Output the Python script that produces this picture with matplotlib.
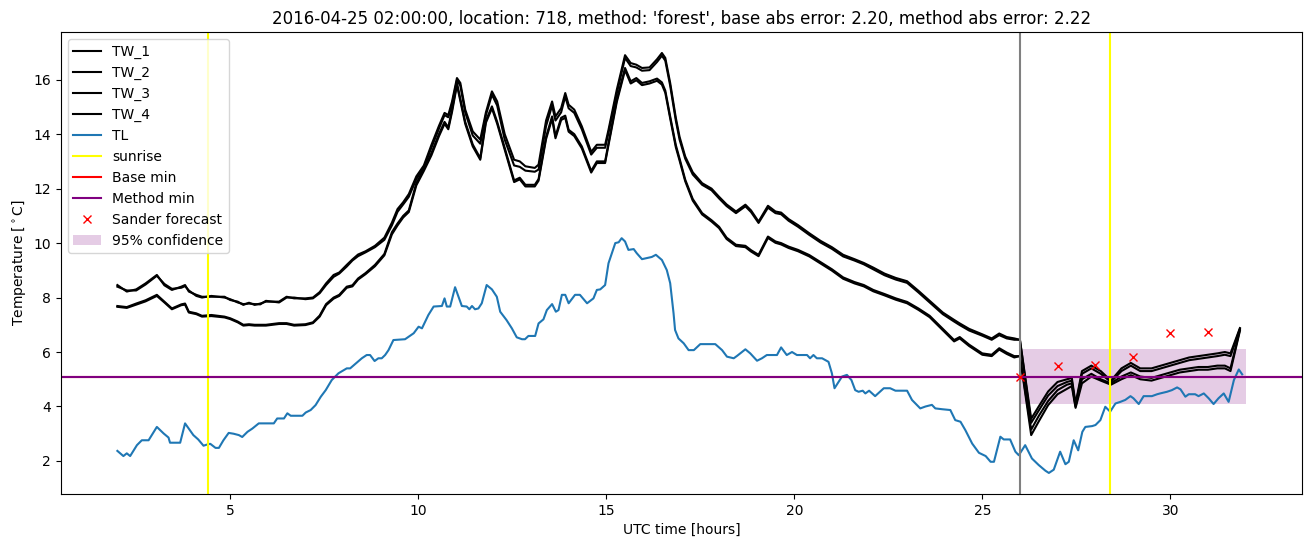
import matplotlib
matplotlib.use("Agg")
import matplotlib.pyplot as plt

title = ("2016-04-25 02:00:00, location: 718, method: 'forest', "
         "base abs error: 2.20, method abs error: 2.22")

# shared time axis for the TW series (observed part + forecast after 26 h)
tw_hours = [
    2.0, 2.25, 2.5, 2.75, 3.05, 3.25, 3.45, 3.7, 3.8, 3.9,
    4.1, 4.25, 4.5, 4.85, 5.0, 5.2, 5.35, 5.5, 5.65, 5.8,
    5.95, 6.3, 6.5, 6.7, 7.0, 7.2, 7.38, 7.55, 7.75, 7.9,
    8.1, 8.25, 8.4, 8.6, 8.85, 9.1, 9.3, 9.45, 9.6, 9.75,
    9.95, 10.15, 10.35, 10.55, 10.7, 10.8, 10.9, 11.03, 11.12, 11.25,
    11.45, 11.65, 11.8, 11.96, 12.1, 12.3, 12.55, 12.7, 12.85, 13.1,
    13.2, 13.4, 13.56, 13.65, 13.8, 13.91, 14.0, 14.15, 14.35, 14.6,
    14.75, 14.97, 15.06, 15.28, 15.5, 15.65, 15.8, 15.95, 16.15, 16.35,
    16.48, 16.57, 16.7, 16.85, 16.95, 17.1, 17.3, 17.55, 17.8, 18.0,
    18.2, 18.45, 18.7, 18.85, 19.05, 19.3, 19.5, 19.65, 19.85, 20.1,
    20.4, 20.7, 21.0, 21.3, 21.6, 21.85, 22.1, 22.4, 22.7, 23.0,
    23.3, 23.6, 23.95, 24.25, 24.4, 24.65, 25.0, 25.25, 25.45, 25.65,
    25.85,
    26.0, 26.3, 26.5, 26.75, 27.0, 27.25, 27.38, 27.48, 27.65,
    27.9, 28.15, 28.42, 28.7, 28.95, 29.2, 29.5, 29.75, 30.0, 30.25,
    30.5, 30.75, 31.0, 31.25, 31.45, 31.6, 31.85,
]

tw_1 = [
    8.46, 8.22, 8.30, 8.52, 8.83, 8.45, 8.28, 8.40, 8.46, 8.22,
    8.10, 8.03, 8.03, 8.03, 7.91, 7.85, 7.73, 7.81, 7.73, 7.78,
    7.85, 7.85, 8.03, 7.97, 7.97, 8.00, 8.20, 8.52, 8.83, 8.92,
    9.20, 9.40, 9.58, 9.70, 9.90, 10.20, 10.75, 11.25, 11.50, 11.80,
    12.45, 12.85, 13.60, 14.30, 14.78, 14.70, 15.20, 16.06, 15.88, 14.90,
    14.10, 13.80, 14.80, 15.57, 15.20, 14.00, 13.06, 13.00, 12.82, 12.76,
    12.88, 14.50, 15.20, 14.65, 14.95, 15.51, 15.08, 14.90, 14.29, 13.35,
    13.61, 13.61, 14.16, 15.63, 16.90, 16.61, 16.55, 16.43, 16.45, 16.75,
    16.98, 16.80, 15.88, 14.60, 13.90, 13.18, 12.60, 12.20, 12.00, 11.70,
    11.42, 11.16, 11.41, 11.20, 10.79, 11.37, 11.16, 11.12, 10.88, 10.66,
    10.36, 10.08, 9.85, 9.57, 9.41, 9.27, 9.10, 8.88, 8.72, 8.60,
    8.25, 7.88, 7.45, 7.18, 7.05, 6.85, 6.65, 6.50, 6.68, 6.55,
    6.50,
    6.45, 3.55, 4.00, 4.55, 4.90, 5.00, 5.05, 4.10, 5.30,
    5.50, 5.30, 4.95, 5.40, 5.60, 5.40, 5.40, 5.50, 5.60, 5.70,
    5.80, 5.85, 5.90, 5.95, 6.00, 5.95, 6.88,
]

tw_2 = [
    8.40, 8.26, 8.26, 8.48, 8.80, 8.50, 8.32, 8.36, 8.42, 8.26,
    8.06, 8.00, 8.06, 8.00, 7.94, 7.82, 7.76, 7.78, 7.76, 7.75,
    7.88, 7.82, 8.00, 8.00, 7.94, 7.97, 8.16, 8.46, 8.76, 8.88,
    9.14, 9.36, 9.52, 9.66, 9.85, 10.12, 10.65, 11.15, 11.42, 11.70,
    12.35, 12.78, 13.50, 14.20, 14.70, 14.62, 15.10, 15.98, 15.78, 14.80,
    13.95, 13.65, 14.70, 15.45, 15.05, 13.80, 12.85, 12.80, 12.66, 12.62,
    12.70, 14.30, 15.05, 14.50, 14.80, 15.38, 14.95, 14.78, 14.18, 13.25,
    13.50, 13.50, 14.05, 15.50, 16.80, 16.50, 16.45, 16.33, 16.35, 16.65,
    16.88, 16.70, 15.78, 14.50, 13.80, 13.10, 12.52, 12.14, 11.94, 11.64,
    11.36, 11.10, 11.35, 11.14, 10.74, 11.30, 11.10, 11.06, 10.82, 10.60,
    10.30, 10.02, 9.79, 9.51, 9.36, 9.22, 9.04, 8.82, 8.66, 8.54,
    8.19, 7.82, 7.39, 7.12, 6.99, 6.79, 6.60, 6.45, 6.62, 6.50,
    6.45,
    6.45, 3.40, 3.85, 4.40, 4.75, 4.90, 4.95, 4.05, 5.20,
    5.40, 5.20, 4.90, 5.30, 5.50, 5.30, 5.30, 5.40, 5.50, 5.60,
    5.70, 5.75, 5.80, 5.85, 5.90, 5.85, 6.85,
]

tw_3 = [
    7.69, 7.65, 7.78, 7.90, 8.10, 7.85, 7.60, 7.75, 7.78, 7.48,
    7.42, 7.33, 7.36, 7.30, 7.24, 7.12, 7.00, 7.02, 7.00, 7.00,
    7.00, 7.06, 7.06, 7.00, 7.02, 7.09, 7.34, 7.76, 8.00, 8.10,
    8.40, 8.45, 8.70, 8.90, 9.20, 9.60, 10.40, 10.72, 11.00, 11.20,
    12.20, 12.72, 13.30, 14.00, 14.45, 14.25, 14.90, 15.88, 15.30, 14.45,
    13.62, 13.12, 14.50, 15.02, 14.45, 13.50, 12.30, 12.40, 12.14, 12.14,
    12.35, 13.90, 14.65, 13.92, 14.60, 14.68, 14.16, 14.00, 13.55, 12.65,
    13.00, 13.00, 13.67, 15.26, 16.43, 15.94, 16.06, 15.88, 15.94, 16.04,
    15.90, 15.60, 14.65, 13.60, 13.10, 12.33, 11.62, 11.10, 10.84, 10.60,
    10.20, 9.94, 9.90, 9.74, 9.57, 10.24, 10.06, 10.00, 9.87, 9.75,
    9.56, 9.30, 9.04, 8.74, 8.57, 8.46, 8.28, 8.13, 7.97, 7.84,
    7.60, 7.33, 6.85, 6.44, 6.55, 6.27, 5.95, 5.90, 6.14, 5.98,
    5.85,
    5.85, 3.15, 3.65, 4.20, 4.60, 4.80, 4.85, 4.00, 5.00,
    5.20, 5.00, 4.85, 5.10, 5.25, 5.10, 5.05, 5.15, 5.25, 5.35,
    5.40, 5.45, 5.45, 5.50, 5.50, 5.40, 6.82,
]

tw_4 = [
    7.66, 7.62, 7.74, 7.86, 8.06, 7.82, 7.57, 7.72, 7.74, 7.45,
    7.39, 7.30, 7.32, 7.27, 7.21, 7.09, 6.97, 6.99, 6.97, 6.97,
    6.97, 7.03, 7.03, 6.97, 6.99, 7.06, 7.30, 7.72, 7.96, 8.06,
    8.36, 8.41, 8.66, 8.86, 9.15, 9.55, 10.32, 10.65, 10.94, 11.14,
    12.12, 12.65, 13.22, 13.92, 14.38, 14.18, 14.82, 15.80, 15.22, 14.38,
    13.55, 13.06, 14.42, 14.95, 14.38, 13.43, 12.24, 12.34, 12.08, 12.08,
    12.29, 13.82, 14.57, 13.85, 14.52, 14.60, 14.09, 13.93, 13.48, 12.59,
    12.94, 12.94, 13.60, 15.18, 16.35, 15.86, 15.98, 15.80, 15.86, 15.96,
    15.82, 15.52, 14.58, 13.52, 13.03, 12.27, 11.56, 11.05, 10.79, 10.55,
    10.15, 9.89, 9.85, 9.69, 9.52, 10.19, 10.01, 9.95, 9.82, 9.70,
    9.51, 9.25, 8.99, 8.69, 8.52, 8.41, 8.23, 8.08, 7.92, 7.79,
    7.55, 7.28, 6.80, 6.39, 6.50, 6.22, 5.90, 5.85, 6.09, 5.93,
    5.80,
    5.85, 2.95, 3.45, 4.05, 4.45, 4.65, 4.75, 3.95, 4.85,
    5.10, 4.95, 4.80, 5.00, 5.15, 5.00, 4.95, 5.05, 5.15, 5.25,
    5.30, 5.35, 5.35, 5.40, 5.40, 5.30, 6.78,
]

tl_hours = [
    2.0, 2.16, 2.25, 2.34, 2.52, 2.65, 2.83, 3.05, 3.23, 3.36,
    3.40, 3.67, 3.80, 4.02, 4.15, 4.29, 4.38, 4.47, 4.61, 4.70,
    4.82, 4.96, 5.09, 5.23, 5.32, 5.46, 5.59, 5.76, 6.16, 6.25,
    6.43, 6.52, 6.61, 6.92, 7.01, 7.14, 7.27, 7.41, 7.54, 7.70,
    7.88, 8.10, 8.19, 8.50, 8.63, 8.72, 8.84, 8.94, 9.03, 9.12,
    9.21, 9.34, 9.65, 9.88, 10.01, 10.10, 10.27, 10.41, 10.63, 10.70,
    10.76, 10.85, 10.98, 11.16, 11.29, 11.36, 11.43, 11.51, 11.60, 11.69,
    11.82, 11.96, 12.09, 12.18, 12.35, 12.49, 12.62, 12.76, 12.84, 12.93,
    13.11, 13.20, 13.33, 13.42, 13.56, 13.66, 13.73, 13.82, 13.91, 14.0,
    14.17, 14.30, 14.49, 14.66, 14.75, 14.84, 14.97, 15.06, 15.24, 15.33,
    15.41, 15.50, 15.59, 15.73, 15.81, 15.95, 16.21, 16.32, 16.48, 16.61,
    16.70, 16.79, 16.83, 16.92, 17.06, 17.19, 17.33, 17.5, 17.90, 18.08,
    18.21, 18.39, 18.48, 18.70, 18.83, 19.01, 19.14, 19.27, 19.54, 19.65,
    19.80, 19.94, 20.07, 20.34, 20.42, 20.51, 20.60, 20.74, 20.91, 21.0,
    21.07, 21.27, 21.40, 21.52, 21.62, 21.71, 21.82, 21.89, 21.99, 22.15,
    22.38, 22.55, 22.69, 23.0, 23.13, 23.35, 23.49, 23.66, 23.75, 23.93,
    24.15, 24.28, 24.42, 24.55, 24.73, 24.91, 25.09, 25.22, 25.31, 25.48,
    25.57, 25.74, 25.88, 25.97, 26.14, 26.32, 26.50, 26.68, 26.77, 26.90,
    27.07, 27.21, 27.30, 27.43, 27.55, 27.66, 27.74, 27.92, 28.01, 28.14,
    28.27, 28.40, 28.54, 28.67, 28.80, 28.94, 29.02, 29.16, 29.29, 29.51,
    29.65, 29.73, 29.91, 30.04, 30.18, 30.27, 30.40, 30.49, 30.66, 30.75,
    30.89, 31.02, 31.15, 31.28, 31.42, 31.55, 31.69, 31.82, 31.91,
]

tl = [
    2.37, 2.18, 2.28, 2.18, 2.58, 2.76, 2.76, 3.25, 3.01, 2.86,
    2.67, 2.67, 3.38, 2.95, 2.79, 2.56, 2.60, 2.63, 2.48, 2.48,
    2.76, 3.03, 3.00, 2.95, 2.88, 3.07, 3.19, 3.38, 3.38, 3.56,
    3.56, 3.75, 3.66, 3.66, 3.78, 3.87, 4.05, 4.36, 4.60, 4.97,
    5.22, 5.40, 5.40, 5.77, 5.89, 5.89, 5.67, 5.77, 5.77, 5.89,
    6.07, 6.44, 6.47, 6.69, 6.93, 6.87, 7.36, 7.67, 7.69, 7.97,
    7.67, 7.67, 8.38, 7.69, 7.67, 7.57, 7.69, 7.57, 7.60, 7.79,
    8.46, 8.30, 8.03, 7.48, 7.17, 6.87, 6.54, 6.47, 6.47, 6.59,
    6.59, 7.05, 7.20, 7.54, 7.76, 7.48, 7.54, 8.10, 8.10, 7.79,
    8.10, 8.10, 7.79, 7.97, 8.28, 8.30, 8.46, 9.26, 10.00, 10.03,
    10.18, 10.06, 9.75, 9.78, 9.63, 9.41, 9.49, 9.57, 9.38, 9.01,
    8.53, 7.42, 6.81, 6.50, 6.32, 6.07, 6.07, 6.29, 6.29, 6.07,
    5.83, 5.77, 5.86, 6.10, 5.95, 5.68, 5.77, 5.89, 5.89, 6.17,
    5.89, 6.00, 5.89, 5.89, 5.77, 5.89, 5.77, 5.77, 5.64, 5.22,
    4.67, 5.10, 5.16, 4.97, 4.60, 4.54, 4.58, 4.48, 4.58, 4.38,
    4.67, 4.67, 4.58, 4.58, 4.24, 3.93, 4.00, 4.06, 3.93, 3.90,
    3.87, 3.50, 3.44, 3.13, 2.64, 2.30, 2.18, 1.97, 1.97, 2.89,
    2.79, 2.79, 2.34, 2.21, 2.58, 2.09, 1.85, 1.64, 1.56, 1.68,
    2.34, 1.88, 1.97, 2.76, 2.39, 3.07, 3.25, 3.28, 3.32, 3.50,
    3.99, 3.81, 4.11, 4.17, 4.24, 4.38, 4.30, 4.09, 4.38, 4.38,
    4.45, 4.48, 4.54, 4.60, 4.70, 4.63, 4.36, 4.45, 4.45, 4.38,
    4.48, 4.30, 4.09, 4.30, 4.48, 4.17, 4.97, 5.36, 5.18,
]

sunrise_hours = [4.42, 28.40]
forecast_start = 26.0
base_min = 5.08
method_min = 5.08
sander_hours = [26, 27, 28, 29, 30, 31]
sander_temp = [5.10, 5.47, 5.54, 5.80, 6.70, 6.73]
conf_hours = [26.0, 32.0]
conf_low = [4.10, 4.10]
conf_high = [6.10, 6.10]


def main() -> None:
    fig = plt.figure(figsize=(13.11, 5.47), dpi=100)
    ax = fig.add_axes([0.0465, 0.097, 0.9466, 0.8445])

    for name, values in zip(["TW_1", "TW_2", "TW_3", "TW_4"], [tw_1, tw_2, tw_3, tw_4]):
        ax.plot(tw_hours, values, color="black", label=name)
    ax.plot(tl_hours, tl, label="TL")
    for i, hour in enumerate(sunrise_hours):
        ax.axvline(hour, color="yellow", label="sunrise" if i == 0 else None)
    ax.axvline(forecast_start, color="gray")
    # base min sits under the method min line
    ax.axhline(base_min, color="red", label="Base min")
    ax.axhline(method_min, color="purple", label="Method min")
    ax.plot(sander_hours, sander_temp, "rx", label="Sander forecast")
    ax.fill_between(conf_hours, conf_low, conf_high, color="purple", alpha=0.2,
                    linewidth=0, label="95% confidence")

    ax.set_title(title)
    ax.set_xlabel("UTC time [hours]")
    ax.set_ylabel(r"Temperature [$^\circ$C]")
    ax.legend(loc="upper left")
    fig.savefig("out.png", dpi=100)


if __name__ == "__main__":
    main()
